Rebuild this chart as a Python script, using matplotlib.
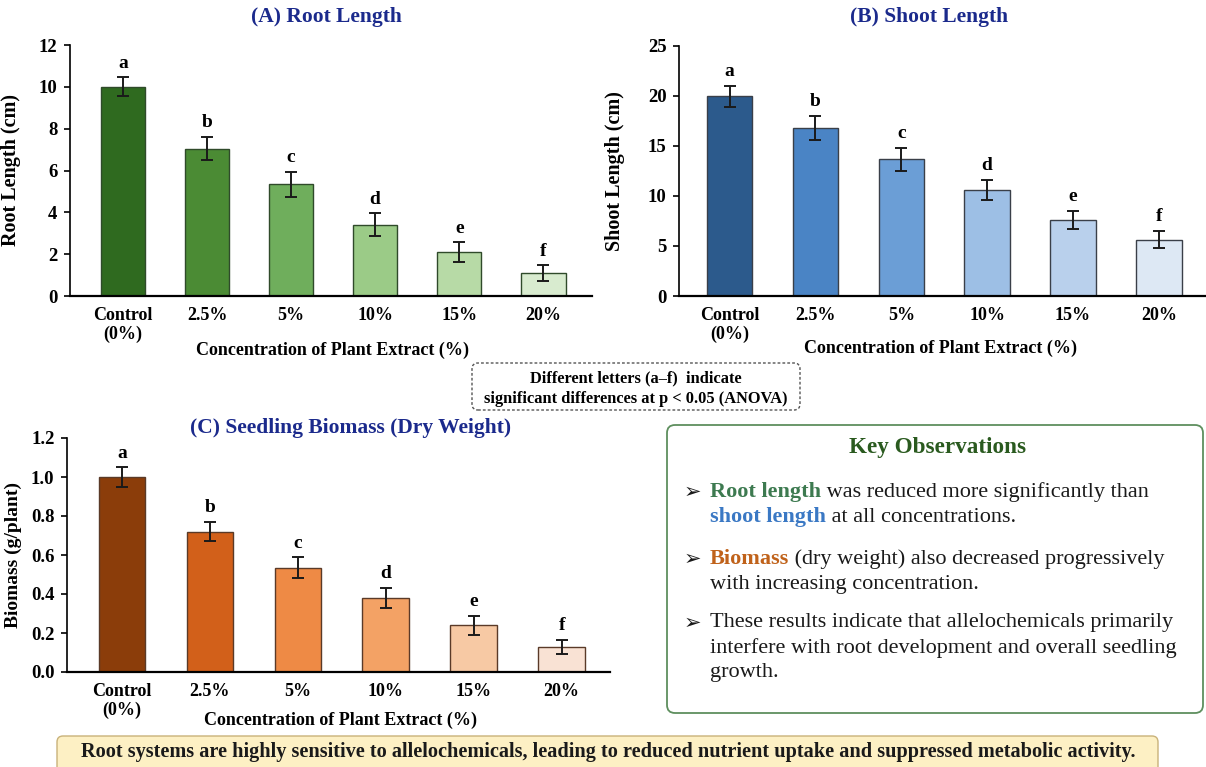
import matplotlib
matplotlib.use("Agg")
import matplotlib.pyplot as plt
from matplotlib.patches import FancyBboxPatch

# data
categories = ["Control\n(0%)", "2.5%", "5%", "10%", "15%", "20%"]
letters = ["a", "b", "c", "d", "e", "f"]

root_len = [10.0, 7.05, 5.35, 3.4, 2.1, 1.1]
root_err = [0.45, 0.55, 0.6, 0.55, 0.47, 0.37]

shoot_len = [20.0, 16.85, 13.7, 10.6, 7.6, 5.65]
shoot_err = [1.05, 1.2, 1.15, 1.0, 0.93, 0.87]

biomass = [1.0, 0.72, 0.535, 0.38, 0.24, 0.127]
biomass_err = [0.05, 0.05, 0.053, 0.05, 0.048, 0.037]

greens = ["#2f6a1f", "#4b8b34", "#6fae5c", "#9bcb87", "#b7daa6", "#d8ebcf"]
blues = ["#2c5a8c", "#4a84c5", "#6b9ed6", "#9dbfe5", "#b9d0ec", "#dde8f4"]
oranges = ["#8b3d0a", "#d2601a", "#ee8a45", "#f3a265", "#f7c9a4", "#f9e2d4"]

W, H = 1206, 767
plt.rcParams['font.family'] = ['Liberation Serif', 'DejaVu Serif']
fig = plt.figure(figsize=(W / 100, H / 100), dpi=100)
fig.patch.set_facecolor("white")

NAVY = "#1b2a8c"


def pbox(l, t, r, b):
    return [l / W, 1 - b / H, (r - l) / W, (b - t) / H]


def fx(px):
    return px / W


def fy(py):
    return 1 - py / H


def bar_panel(rect, vals, errs, colors, edge, ylim, yticks, ylabel, xlim, fmt=None, ylsize=14.5):
    ax = fig.add_axes(rect)
    x = list(range(len(vals)))
    ax.bar(x, vals, width=0.53, color=colors, edgecolor=edge, linewidth=1.0, zorder=2)
    ax.errorbar(x, vals, yerr=errs, fmt="none", ecolor="#1a1a1a",
                elinewidth=1.4, capsize=4.5, capthick=1.4, zorder=3)
    for xi, v, e, lt in zip(x, vals, errs, letters):
        ax.annotate(lt, (xi, v + e), xytext=(0, 7), textcoords="offset points",
                    ha="center", va="baseline", fontsize=14, fontweight="bold")
    ax.set_xlim(*xlim)
    ax.set_ylim(*ylim)
    ax.set_yticks(yticks)
    if fmt:
        ax.set_yticklabels([fmt % t for t in yticks])
    ax.set_xticks(x)
    ax.set_xticklabels(categories, linespacing=1.15)
    for sp in ["top", "right"]:
        ax.spines[sp].set_visible(False)
    ax.spines["bottom"].set_linewidth(1.6)
    ax.spines["left"].set_linewidth(1.2)
    ax.tick_params(axis="x", length=0, pad=8, labelsize=13)
    ax.tick_params(axis="y", length=4, width=1.2, pad=5, labelsize=13.5)
    for lab in ax.get_xticklabels() + ax.get_yticklabels():
        lab.set_fontweight("bold")
    ax.set_ylabel(ylabel, fontsize=ylsize, fontweight="bold")
    return ax


# (A) root length
axA = bar_panel(pbox(70, 45, 592, 296), root_len, root_err, greens, "#2f4a2a",
                (0, 12), [0, 2, 4, 6, 8, 10, 12], "Root Length (cm)", (-0.63, 5.58))
axA.yaxis.set_label_coords((21 - 70) / 522, 0.5)
fig.text(fx(326), fy(17), "(A) Root Length", ha="center", va="center",
         fontsize=15.5, fontweight="bold", color=NAVY)
fig.text(fx(333), fy(350), "Concentration of Plant Extract (%)", ha="center", va="center",
         fontsize=13, fontweight="bold")

# (B) shoot length
axB = bar_panel(pbox(679, 46, 1206, 296), shoot_len, shoot_err, blues, "#3a3f48",
                (0, 25), [0, 5, 10, 15, 20, 25], "Shoot Length (cm)", (-0.59, 5.55))
axB.yaxis.set_label_coords((625 - 679) / 527, 0.5)
fig.text(fx(929), fy(17), "(B) Shoot Length", ha="center", va="center",
         fontsize=15.5, fontweight="bold", color=NAVY)
fig.text(fx(940), fy(348), "Concentration of Plant Extract (%)", ha="center", va="center",
         fontsize=13, fontweight="bold")

# (C) biomass
axC = bar_panel(pbox(67, 438, 610, 672), biomass, biomass_err, oranges, "#5a3a28",
                (0, 1.2), [0, 0.2, 0.4, 0.6, 0.8, 1.0, 1.2], "Biomass (g/plant)",
                (-0.625, 5.55), fmt="%.1f", ylsize=14)
axC.yaxis.set_label_coords((22 - 67) / 543, 0.5)
fig.text(fx(351), fy(428), "(C) Seedling Biomass (Dry Weight)", ha="center", va="center",
         fontsize=15.5, fontweight="bold", color=NAVY)
fig.text(fx(341), fy(720), "Concentration of Plant Extract (%)", ha="center", va="center",
         fontsize=13, fontweight="bold")

# note box with dashed border
tr = fig.dpi_scale_trans
note = FancyBboxPatch((472 / 100, (H - 410) / 100), (800 - 472) / 100, (410 - 363) / 100,
                      boxstyle="round,pad=0,rounding_size=0.06", transform=tr,
                      facecolor="white", edgecolor="#555555", linewidth=1.0,
                      linestyle=(0, (2, 1.5)))
fig.patches.append(note)
fig.text(fx(636), fy(378), "Different letters (a\u2013f)  indicate", ha="center", va="center",
         fontsize=11.8, fontweight="bold")
fig.text(fx(636), fy(399), "significant differences at p < 0.05 (ANOVA)", ha="center",
         va="center", fontsize=11.8, fontweight="bold")

# key observations box
key = FancyBboxPatch((667 / 100, (H - 713) / 100), (1203 - 667) / 100, (713 - 425) / 100,
                     boxstyle="round,pad=0,rounding_size=0.08", transform=tr,
                     facecolor="white", edgecolor="#5e8f5e", linewidth=1.3)
fig.patches.append(key)
fig.text(fx(938), fy(448), "Key Observations", ha="center", va="center",
         fontsize=16.7, fontweight="bold", color="#2a5a1f")

renderer = fig.canvas.get_renderer()
bullet_lines = [
    [(492, [("Root length", "#3d7a50", "bold"), (" was reduced more significantly than", "#1a1a1a", "normal")]),
     (517, [("shoot length", "#3a78c4", "bold"), (" at all concentrations.", "#1a1a1a", "normal")])],
    [(559, [("Biomass", "#c0621a", "bold"), (" (dry weight) also decreased progressively", "#1a1a1a", "normal")]),
     (584, [("with increasing concentration.", "#1a1a1a", "normal")])],
    [(623, [("These results indicate that allelochemicals primarily", "#1a1a1a", "normal")]),
     (648, [("interfere with root development and overall seedling", "#1a1a1a", "normal")]),
     (673, [("growth.", "#1a1a1a", "normal")])],
]
for group in bullet_lines:
    fig.text(fx(684), fy(group[0][0]), "\u27a2", ha="left", va="center", fontsize=15,
             family="DejaVu Sans", color="#1a1a1a")
    for py, parts in group:
        x0 = 710
        for txt, col, wt in parts:
            t = fig.text(fx(x0), fy(py), txt, ha="left", va="center", fontsize=16,
                         fontweight=wt, color=col)
            x0 = t.get_window_extent(renderer).x1

# bottom banner
banner = FancyBboxPatch((57 / 100, (H - 775) / 100), (1158 - 57) / 100, (775 - 736) / 100,
                        boxstyle="round,pad=0,rounding_size=0.06", transform=tr,
                        facecolor="#fdf0c4", edgecolor="#c9b27a", linewidth=1.0)
fig.patches.append(banner)
fig.text(fx(608), fy(752), "Root systems are highly sensitive to allelochemicals, leading to "
         "reduced nutrient uptake and suppressed metabolic activity.",
         ha="center", va="center", fontsize=14.6, fontweight="bold", color="#1a1a1a")

fig.savefig("out.png", dpi=100)
